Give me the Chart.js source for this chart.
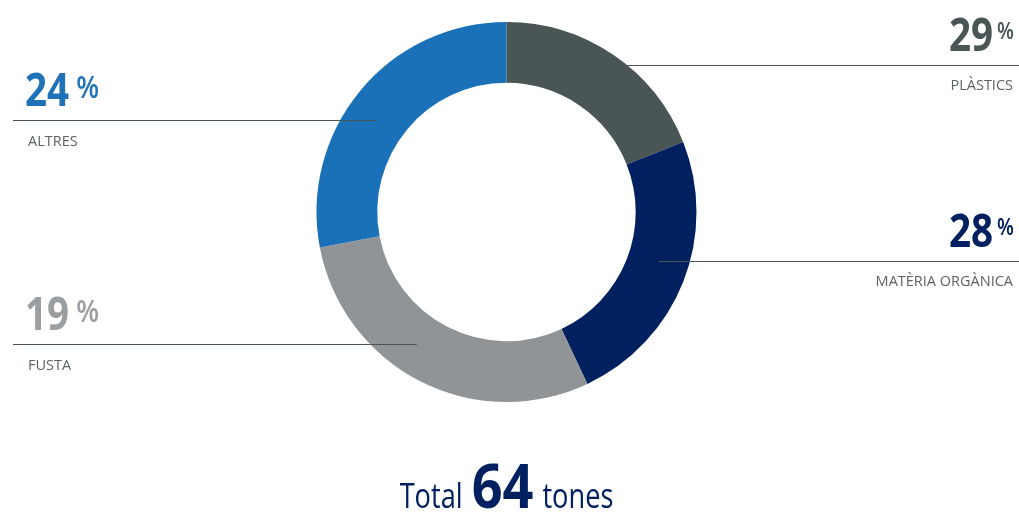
<!DOCTYPE html>
<html>
<head>
<meta charset="utf-8">
<script src="https://cdn.jsdelivr.net/npm/chart.js@4/dist/chart.umd.min.js"></script>
<style>
  html, body { margin: 0; padding: 0; background: #fff; }
  #wrap { width: 1019px; height: 514px; }
</style>
</head>
<body>
<div id="wrap"><canvas id="Chart" width="1019" height="514"></canvas></div>
<script>
// categories, clockwise from 12 o'clock
const categories = ['PLÀSTICS', 'MATÈRIA ORGÀNICA', 'FUSTA', 'ALTRES'];
// arc sizes as drawn in the picture
const sliceValues = [19, 24, 29, 28];
// percentages printed next to each label
const labelPercents = [29, 28, 19, 24];
const sliceColors = ['#4a5556', '#002060', '#909497', '#1b71b8'];
const textColors = ['#4a5556', '#002060', '#9a9ea1', '#1f72b8'];
const totalTones = 64;

// where each callout sits: side, y of the leader line, radius fraction where the line stops
const callouts = [
    {side: 'right', lineY: 65, rf: 1.0},
    {side: 'right', lineY: 261, rf: 0.5},
    {side: 'left', lineY: 344, rf: 0.5},
    {side: 'left', lineY: 120, rf: 0.5}
];

// draws text squeezed horizontally (the original font is a narrow one), returns drawn width
function narrowText(ctx, str, x, y, font, align, sx) {
    ctx.font = font;
    const w = ctx.measureText(str).width * sx;
    const left = align === 'right' ? x - w : x;
    ctx.save();
    ctx.textAlign = 'left';
    ctx.translate(left, y);
    ctx.scale(sx, 1);
    ctx.fillText(str, 0, 0);
    ctx.restore();
    return w;
}

function widthOf(ctx, str, font, sx) {
    ctx.font = font;
    return ctx.measureText(str).width * sx;
}

const calloutPlugin = {
    id: 'callouts',
    afterDatasetsDraw(chart) {
        const ctx = chart.ctx;
        const arc = chart.getDatasetMeta(0).data[0];
        const cx = arc.x, cy = arc.y;
        const rMid = arc.innerRadius + (arc.outerRadius - arc.innerRadius) * 0.5;
        const W = chart.width;
        const numFont = 'bold 46px "Open Sans"';
        ctx.save();
        callouts.forEach(function (c, i) {
            const r = c.rf === 1 ? arc.outerRadius : rMid;
            const dy = c.lineY - cy;
            const dx = Math.sqrt(Math.max(r * r - dy * dy, 0));
            ctx.strokeStyle = '#4a5556';
            ctx.lineWidth = 1;
            ctx.beginPath();
            if (c.side === 'right') {
                ctx.moveTo(cx + dx, c.lineY + 0.5);
                ctx.lineTo(W, c.lineY + 0.5);
            } else {
                ctx.moveTo(13, c.lineY + 0.5);
                ctx.lineTo(cx - dx, c.lineY + 0.5);
            }
            ctx.stroke();

            const numBase = c.lineY - 14;
            const num = String(labelPercents[i]);
            ctx.fillStyle = textColors[i];
            ctx.textBaseline = 'alphabetic';
            if (c.side === 'right') {
                const pw = narrowText(ctx, '%', 1014, numBase - 12, '600 23px "Open Sans"', 'right', 0.85);
                narrowText(ctx, num, 1014 - pw - 4, numBase, numFont, 'right', 0.84);
            } else {
                const nw = narrowText(ctx, num, 25, numBase, numFont, 'left', 0.84);
                narrowText(ctx, '%', 25 + nw + 7, numBase - 8, '600 30px "Open Sans"', 'left', 0.88);
            }

            ctx.font = '14.5px "Open Sans"';
            ctx.fillStyle = '#5c6365';
            ctx.textBaseline = 'middle';
            if (c.side === 'right') {
                ctx.textAlign = 'right';
                ctx.fillText(categories[i], 1013, c.lineY + 21);
            } else {
                ctx.textAlign = 'left';
                ctx.fillText(categories[i], 28, c.lineY + 22);
            }
        });

        // total line under the ring
        const base = 508;
        const smallFont = '34px "Open Sans"';
        const bigFont = 'bold 60px "Open Sans"';
        const sxs = 0.8, sxb = 0.9;
        ctx.textBaseline = 'alphabetic';
        ctx.fillStyle = '#002060';
        const w1 = widthOf(ctx, 'Total', smallFont, sxs);
        const w2 = widthOf(ctx, String(totalTones), bigFont, sxb);
        const w3 = widthOf(ctx, 'tones', smallFont, sxs);
        const gap = 9;
        let x = cx - (w1 + w2 + w3 + gap * 2) / 2;
        narrowText(ctx, 'Total', x, base, smallFont, 'left', sxs);
        x += w1 + gap;
        narrowText(ctx, String(totalTones), x, base, bigFont, 'left', sxb);
        x += w2 + gap;
        narrowText(ctx, 'tones', x, base, smallFont, 'left', sxs);
        ctx.restore();
    }
};

new Chart(document.getElementById('Chart'), {
    type: 'doughnut',
    data: {
        labels: categories,
        datasets: [{
            data: sliceValues,
            backgroundColor: sliceColors,
            borderWidth: 0
        }]
    },
    options: {
        responsive: false,
        animation: false,
        cutout: '68%',
        layout: {padding: {top: 22, bottom: 112, left: 0, right: 6}},
        plugins: {
            legend: {display: false},
            tooltip: {enabled: false}
        }
    },
    plugins: [calloutPlugin]
});
</script>
</body>
</html>
